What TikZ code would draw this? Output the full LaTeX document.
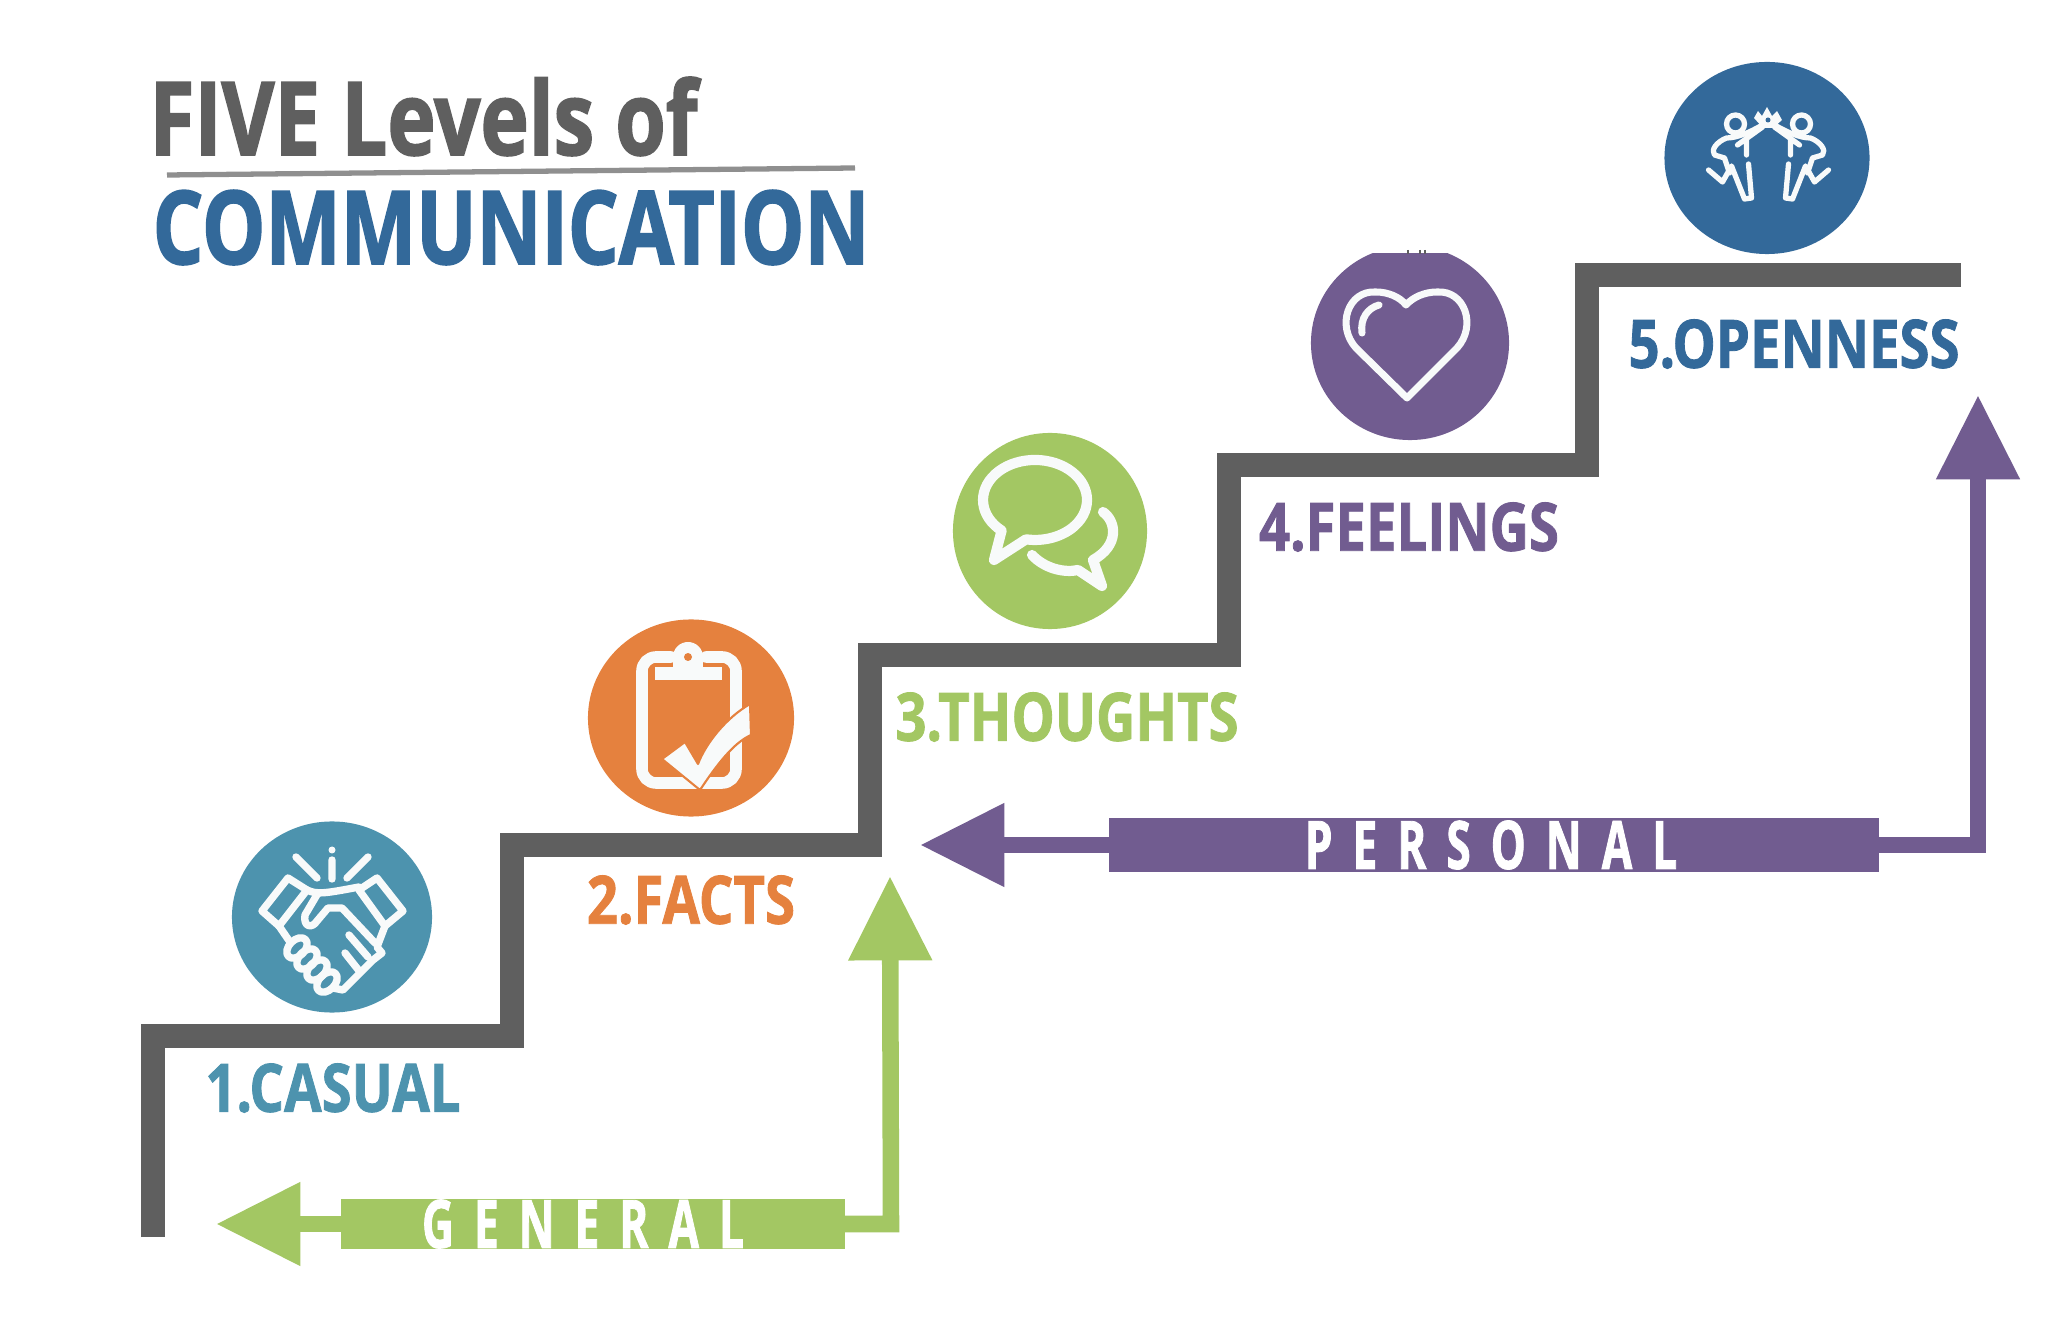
\documentclass[tikz,border=0pt]{standalone}
\usepackage{xcolor}
\usepackage{fontspec}
\usetikzlibrary{shapes.geometric, arrows.meta, positioning, calc}
\newfontfamily\titlefont[FakeStretch=0.8,BoldFeatures={FakeBold=1.6}]{Open Sans}
\newfontfamily\bigcapsfont[FakeStretch=0.783,BoldFeatures={FakeBold=1.6}]{Open Sans}
\newfontfamily\diagramfont[FakeStretch=0.815,BoldFeatures={FakeBold=1.2}]{Open Sans}
\newfontfamily\spacedfont[FakeStretch=0.66,LetterSpace=30,BoldFeatures={FakeBold=1.2}]{Open Sans}
\definecolor{stairgray}{RGB}{95, 95, 95}
\definecolor{ruleray}{RGB}{143, 143, 143}
\definecolor{casualteal}{RGB}{77, 147, 174}
\definecolor{factsorange}{RGB}{229, 129, 62}
\definecolor{thoughtsgreen}{RGB}{163, 199, 99}
\definecolor{feelingspurple}{RGB}{113, 92, 144}
\definecolor{opennessblue}{RGB}{51, 105, 154}
\definecolor{iconwhite}{RGB}{248, 250, 250}

\begin{document}
\begin{tikzpicture}[
    x=0.01cm, y=-0.01cm,
    level/.style={ellipse, fill=#1, draw=none, inner sep=0pt},
    steplabel/.style={text=#1, font=\diagramfont\fontsize{19}{19}\selectfont\bfseries, inner sep=0pt},
    titleline/.style={anchor=base west, inner sep=0pt, text=#1},
    bar/.style={fill=#1, inner sep=0pt, outer sep=0pt},
    bartext/.style={text=white, inner sep=0pt, font=\spacedfont\fontsize{19}{19}\selectfont\bfseries},
    bararrow/.style={draw=#1, line width=4.7pt, -{Triangle[length=24pt, width=22.6pt]}},
    stairline/.style={draw=stairgray, line width=6.9pt},
    icon/.style={draw=iconwhite, line width=#1, line cap=round, line join=round}
]
    \useasboundingbox (0,0) rectangle (2048,1334);

    \node[titleline=stairgray, font=\titlefont\fontsize{29}{29}\selectfont\bfseries] (titletop) at (149,155) {FIVE Levels of};
    \node[titleline=opennessblue, font=\bigcapsfont\fontsize{29}{29}\selectfont\bfseries] (titlebottom) at (152,264) {COMMUNICATION};
    \draw[ruleray, line width=1.5pt] (167,175) -- (855,168);

    \draw[stairline] (153,1237) -- (153,1036) -- (512,1036) -- (512,845) -- (870,845) -- (870,655) -- (1229,655) -- (1229,465) -- (1587,465) -- (1587,275) -- (1961,275);

    \node[level=casualteal, minimum width=2cm, minimum height=1.91cm] (casual) at (332,917) {};
    \node[level=factsorange, minimum width=2.06cm, minimum height=1.97cm] (facts) at (691,718) {};
    \node[level=thoughtsgreen, minimum width=1.94cm, minimum height=1.96cm] (thoughts) at (1050,531) {};
    \node[level=feelingspurple, minimum width=1.98cm, minimum height=1.94cm] (feelings) at (1410,343) {};
    \node[level=opennessblue, minimum width=2.05cm, minimum height=1.92cm] (openness) at (1767,158) {};

    % top of the purple disc is cut flat
    \fill[white] (1340,240) rectangle (1480,253);
    \draw[stairgray, line width=0.4pt] (1408,250) -- (1408,254) (1420,250) -- (1420,254) (1425,250) -- (1425,254);

    \node[steplabel=casualteal] (casuallabel) at (333,1088) {1.CASUAL};
    \node[steplabel=factsorange] (factslabel) at (691,900) {2.FACTS};
    \node[steplabel=thoughtsgreen] (thoughtslabel) at (1067,717) {3.THOUGHTS};
    \node[steplabel=feelingspurple] (feelingslabel) at (1409,527) {4.FEELINGS};
    \node[steplabel=opennessblue] (opennesslabel) at (1794,344) {5.OPENNESS};

    \node[bar=thoughtsgreen, minimum width=5.04cm, minimum height=0.5cm] (generalbar) at (593,1224) {};
    \node[bar=feelingspurple, minimum width=7.7cm, minimum height=0.54cm] (personalbar) at (1494,845) {};
    \node[bartext] (generaltext) at (583,1224) {GENERAL};
    \node[bartext] (personaltext) at (1491,845) {PERSONAL};

    \coordinate (generalend) at (216,1224);
    \coordinate (generalcorner) at (891,1224);
    \coordinate (generaltip) at (890,876);
    \coordinate (personalend) at (920,845);
    \coordinate (personalcorner) at (1978,845);
    \coordinate (personaltip) at (1978,395);

    \draw[bararrow=thoughtsgreen] (generalbar) -- (generalend);
    \draw[bararrow=thoughtsgreen] (generalbar) -- (generalcorner) -- (generaltip);
    \draw[bararrow=feelingspurple] (personalbar) -- (personalend);
    \draw[bararrow=feelingspurple] (personalbar) -- (personalcorner) -- (personaltip);

    % handshake
    \begin{scope}[shift={(casual.center)}, icon=2.1pt]
        \draw (0,-57) -- (0,-38) (-36,-60) -- (-15,-39) (36,-60) -- (15,-39);
        \fill[iconwhite] (0,-67) circle (3.5);
        \draw (-44,-39) -- (-70,-6) -- (-53,9) -- (-25,-27) -- cycle;
        \draw (45,-39) -- (71,-6) -- (53,9) -- (27,-27) -- cycle;
        \draw (-25,-27) .. controls (-15,-22) and (-5,-24) .. (27,-30);
        \draw (-14,-24) -- (-27,-2) .. controls (-29,10) and (-20,12) .. (-15,4) -- (-4,-9) -- (10,-9) -- (43,26);
        \draw (53,9) -- (45,30) -- (50,36) -- (41,43) -- (31,53) -- (21,63) -- (11,73) -- (1,71);
        \draw (17,18) -- (36,40) (13,36) -- (28,55);
        \draw (-53,9) -- (-42,25);
        \foreach \px/\py in {-35/31, -25/42, -15/53, -5/65} {
            \draw (\px,\py) circle [x radius=12, y radius=8, rotate=45];
        }
    \end{scope}

    % clipboard
    \begin{scope}[shift={(facts.center)}, icon=3.3pt]
        \draw[rounded corners=4pt] (-20,-61) -- (-49,-61) -- (-49,65) -- (45,65) -- (45,-61) -- (15,-61);
        \fill[iconwhite] (-36,-51) rectangle (31,-38);
        \fill[iconwhite] (-3,-61) circle (15);
        \fill[iconwhite] (-18,-61) rectangle (12,-42);
        \fill[factsorange] (-3,-61) circle (4);
        \filldraw[draw=factsorange, fill=iconwhite, line width=0.6pt] (-29,41) -- (-6,24) -- (7,46) .. controls (15,25) and (35,0) .. (59,-14) -- (60,17) .. controls (42,25) and (25,48) .. (9,72) -- cycle;
    \end{scope}

    % speech bubbles
    \begin{scope}[shift={(thoughts.center)}, icon=2.9pt]
        \draw (-48.4,-0.4) arc [start angle=130, end angle=460, x radius=52, y radius=40] -- (-56,29) -- cycle;
        \draw (53,-19) .. controls (66,-10) and (70,14) .. (43,29) -- (52,55) -- (28,39) .. controls (15,42) and (-5,38) .. (-18,24);
    \end{scope}

    % heart
    \begin{scope}[shift={($(feelings.center)+(0,3)$)}, icon=2pt]
        \draw (-3,52) -- (-54,2) .. controls (-74,-20) and (-62,-56) .. (-34,-54) .. controls (-22,-54) and (-10,-49) .. (-4,-41) .. controls (3,-49) and (15,-54) .. (27,-54) .. controls (55,-56) and (67,-20) .. (47,2) -- cycle;
        \draw (-31,-41) .. controls (-42,-38) and (-50,-28) .. (-48,-13);
    \end{scope}

    % two people
    \begin{scope}[shift={(openness.center)}, icon=1.5pt]
        \foreach \flip in {1,-1} {
            \begin{scope}[xshift=0.015cm, xscale=\flip]
                \draw (-33,-34) circle (9);
                \draw (-6,-33) .. controls (-20,-25) and (-32,-20) .. (-42,-20) .. controls (-52,-16) and (-58,-8) .. (-54,-3) -- (-44,0) -- (-39,15);
                \draw (-60,12) -- (-46,24) -- (-37,8) -- (-24,41) -- (-17,40) -- (-20,6);
                \draw (-6,-31) -- (-31,-13) (-22,-20) -- (-22,-3);
            \end{scope}
        }
        \fill[iconwhite] (-13,-40) -- (-9,-47) -- (-5,-42) -- (0,-51) -- (5,-42) -- (10,-47) -- (15,-38) -- (6,-30) -- (-4,-30) -- cycle;
        \fill[opennessblue] (1,-38) circle (2.5);
    \end{scope}
\end{tikzpicture}
\end{document}
